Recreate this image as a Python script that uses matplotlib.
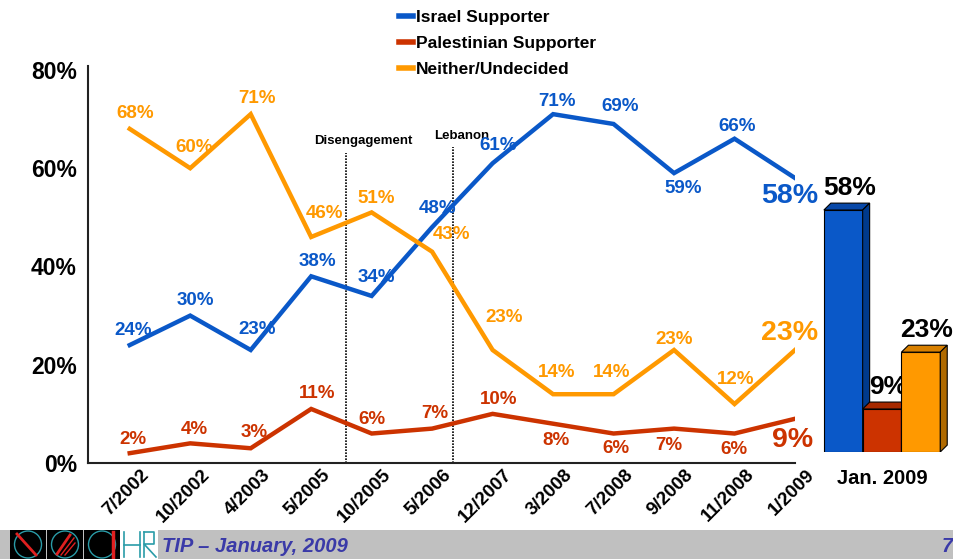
import matplotlib
matplotlib.use('Agg')
import matplotlib.pyplot as plt
import numpy as np
from matplotlib.patches import Polygon, Rectangle, Ellipse
from matplotlib.lines import Line2D

# ---------------- data ----------------
dates = ['7/2002', '10/2002', '4/2003', '5/2005', '10/2005', '5/2006',
         '12/2007', '3/2008', '7/2008', '9/2008', '11/2008', '1/2009']
israel = [24, 30, 23, 38, 34, 48, 61, 71, 69, 59, 66, 58]
palestinian = [2, 4, 3, 11, 6, 7, 10, 8, 6, 7, 6, 9]
neither = [68, 60, 71, 46, 51, 43, 23, 14, 14, 23, 12, 23]
series_names = ['Israel Supporter', 'Palestinian Supporter', 'Neither/Undecided']
events = ['Disengagement', 'Lebanon']
latest_label = 'Jan. 2009'
latest = [58, 9, 23]
y_ticks = [0, 20, 40, 60, 80]
footer_text = 'TIP \u2013 January, 2009'
page_no = '7'

# ---------------- style / layout ----------------
FONT = 'Liberation Sans'
plt.rcParams['font.family'] = [FONT, 'DejaVu Sans']
colors = ['#0A58C8', '#CC3300', '#FF9900']
side_colors = ['#003A8C', '#8A2200', '#B06A00']
top_colors = ['#0848A8', '#A82A00', '#D88000']
event_pos = [3.57, 5.34]
event_tops = [63.1, 64.4]
event_label_y = [65.6, 66.6]
event_label_dx = [18, 9]
# label offsets in pixels (dx, dy) for each point
off_israel = [(3, 15), (5, 15), (6, 20), (6, 15), (5, 18), (5, 19),
              (6, 18), (4, 13), (7, 17), (9, -15), (3, 12), (-5, -18)]
off_pal = [(3, 14), (4, 14), (3, 16), (6, 15), (0, 14), (3, 15),
           (6, 14), (3, -17), (2, -15), (-5, -17), (-1, -16), (-2, -21)]
off_nei = [(5, 15), (4, 21), (6, 16), (13, 23), (5, 14), (19, 17),
           (12, 32), (4, 22), (-2, 22), (0, 10), (1, 25), (-5, 17)]

W, H = 954, 559
fig = plt.figure(figsize=(W / 100, H / 100), dpi=100)
fig.patch.set_facecolor('white')

ax = fig.add_axes([88 / W, 1 - 463 / H, (795 - 88) / W, (463 - 66) / H])
x = np.arange(len(dates))
series = [israel, palestinian, neither]
offsets = [off_israel, off_pal, off_nei]
for vals, c, offs in zip(series, colors, offsets):
    ax.plot(x, vals, color=c, lw=3.2, solid_joinstyle='miter', zorder=3)
    for i, (v, (dx, dy)) in enumerate(zip(vals, offs)):
        big = (i == len(vals) - 1)
        ax.annotate(f'{v}%', (x[i], v), xytext=(dx, dy), textcoords='offset pixels',
                    ha='center', va='center', color=c, fontweight='bold',
                    fontsize=20.5 if big else 13.5, zorder=4)

for ev, ep, et, ly, ldx in zip(events, event_pos, event_tops, event_label_y, event_label_dx):
    ax.vlines(ep, 0, et, colors='black', linestyles=(0, (1, 0.8)), lw=1.2, zorder=2)
    ax.annotate(ev, (ep, ly), xytext=(ldx, 0), textcoords='offset pixels',
                ha='center', va='center', fontsize=9.5, fontweight='bold')

ax.set_xlim(-0.69, 11)
ax.set_ylim(0, 80.8)
ax.set_yticks(y_ticks)
ax.set_yticklabels([f'{t}%' for t in y_ticks], fontsize=16.5, fontweight='bold')
ax.set_xticks(x)
ax.set_xticklabels([])
# rotated category labels, anchored at each category slightly right of the tick
for xi, d in zip(x, dates):
    ax.annotate(d, (xi, 0), xycoords=('data', 'axes fraction'), xytext=(11, -3),
                textcoords='offset pixels', rotation=45, ha='right', va='top',
                rotation_mode='anchor', fontsize=13.5, fontweight='bold',
                annotation_clip=False)
ax.tick_params(axis='both', length=0)
ax.tick_params(axis='y', pad=8)
for s in ['top', 'right']:
    ax.spines[s].set_visible(False)
for s in ['left', 'bottom']:
    ax.spines[s].set_linewidth(1.5)
    ax.spines[s].set_color('#222222')

# legend
handles = [Line2D([0], [0], color=c, lw=4) for c in colors]
fig.legend(handles, series_names, loc='upper left', bbox_to_anchor=(390 / W, 1 - 1 / H),
           frameon=False, handlelength=0.8, handletextpad=0.2, labelspacing=0.62,
           borderaxespad=0.1,
           prop={'family': FONT, 'weight': 'bold', 'size': 12.5})

# ---------------- 3D bars for latest ----------------
base = -1.6
bx = fig.add_axes([820 / W, 1 - 452 / H, 128 / W, 267 / H])
bx.set_xlim(-0.6, 2.7)
bx.set_ylim(base, base + 267 / 4.06)
bx.axis('off')
depth_x, depth_y = 0.18, 1.7
bpos = np.arange(len(latest))
for i, (p, v) in enumerate(zip(bpos, latest)):
    z = 2 + i
    bx.bar(p, v - base, bottom=base, width=1.0, color=colors[i], edgecolor='black',
           lw=0.8, zorder=z)
    top = [(p - 0.5, v), (p - 0.5 + depth_x, v + depth_y),
           (p + 0.5 + depth_x, v + depth_y), (p + 0.5, v)]
    side = [(p + 0.5, base), (p + 0.5 + depth_x, base + depth_y),
            (p + 0.5 + depth_x, v + depth_y), (p + 0.5, v)]
    bx.add_patch(Polygon(top, closed=True, facecolor=top_colors[i], edgecolor='black',
                         lw=0.8, zorder=z))
    bx.add_patch(Polygon(side, closed=True, facecolor=side_colors[i], edgecolor='black',
                         lw=0.8, zorder=z))
    bx.annotate(f'{v}%', (p, v), xytext=(6, 22), textcoords='offset pixels',
                ha='center', va='center', fontsize=19, fontweight='bold',
                color='black', zorder=1.5 + i)
fig.text(882 / W, 1 - 478 / H, latest_label, ha='center', va='center',
         fontsize=14.5, fontweight='bold')

# ---------------- footer ----------------
fig.patches.append(Rectangle((0, 0), 1, 29 / H, transform=fig.transFigure,
                             facecolor='#C0C0C0', edgecolor='none', zorder=-5))
fig.text(162 / W, 1 - 546 / H, footer_text, ha='left', va='center', fontsize=14.5,
         fontweight='bold', style='italic', color='#3A3AA8')
fig.text(942 / W, 1 - 546 / H, page_no, ha='left', va='center', fontsize=14.5,
         fontweight='bold', style='italic', color='#3A3AA8')

lg = fig.add_axes([0, 0, 160 / W, 29 / H])
lg.set_zorder(5)
lg.set_xlim(0, 160)
lg.set_ylim(0, 29)
lg.axis('off')
teal = '#2A9CA8'
for k, x0 in enumerate([10, 47, 84]):
    lg.add_patch(Rectangle((x0, 0), 36, 29, facecolor='black', edgecolor='none'))
    lg.add_patch(Ellipse((x0 + 18, 14.5), 27, 27, facecolor='none', edgecolor=teal, lw=1))
lg.plot([17, 36], [25, 4], color='#E02020', lw=2)
lg.plot([57, 70], [5, 24], color='#E02020', lw=2)
lg.plot([61, 74], [4, 21], color='#E02020', lw=1)
lg.plot([65, 75], [4, 16], color='#E02020', lw=1)
lg.plot([113, 113], [2, 27], color='#E02020', lw=2.5)
lg.add_patch(Rectangle((120, 0), 38, 29, facecolor='white', edgecolor='none'))
lg.plot([124, 124], [2, 27], color=teal, lw=1.2)
lg.plot([124, 140], [14, 14], color=teal, lw=1.2)
lg.plot([140, 140], [2, 27], color=teal, lw=1.2)
lg.plot([144, 144], [2, 27], color=teal, lw=1.2)
lg.plot([144, 154, 154, 144, 156], [27, 27, 15, 15, 2], color=teal, lw=1.2)

fig.savefig('out.png', dpi=100)
